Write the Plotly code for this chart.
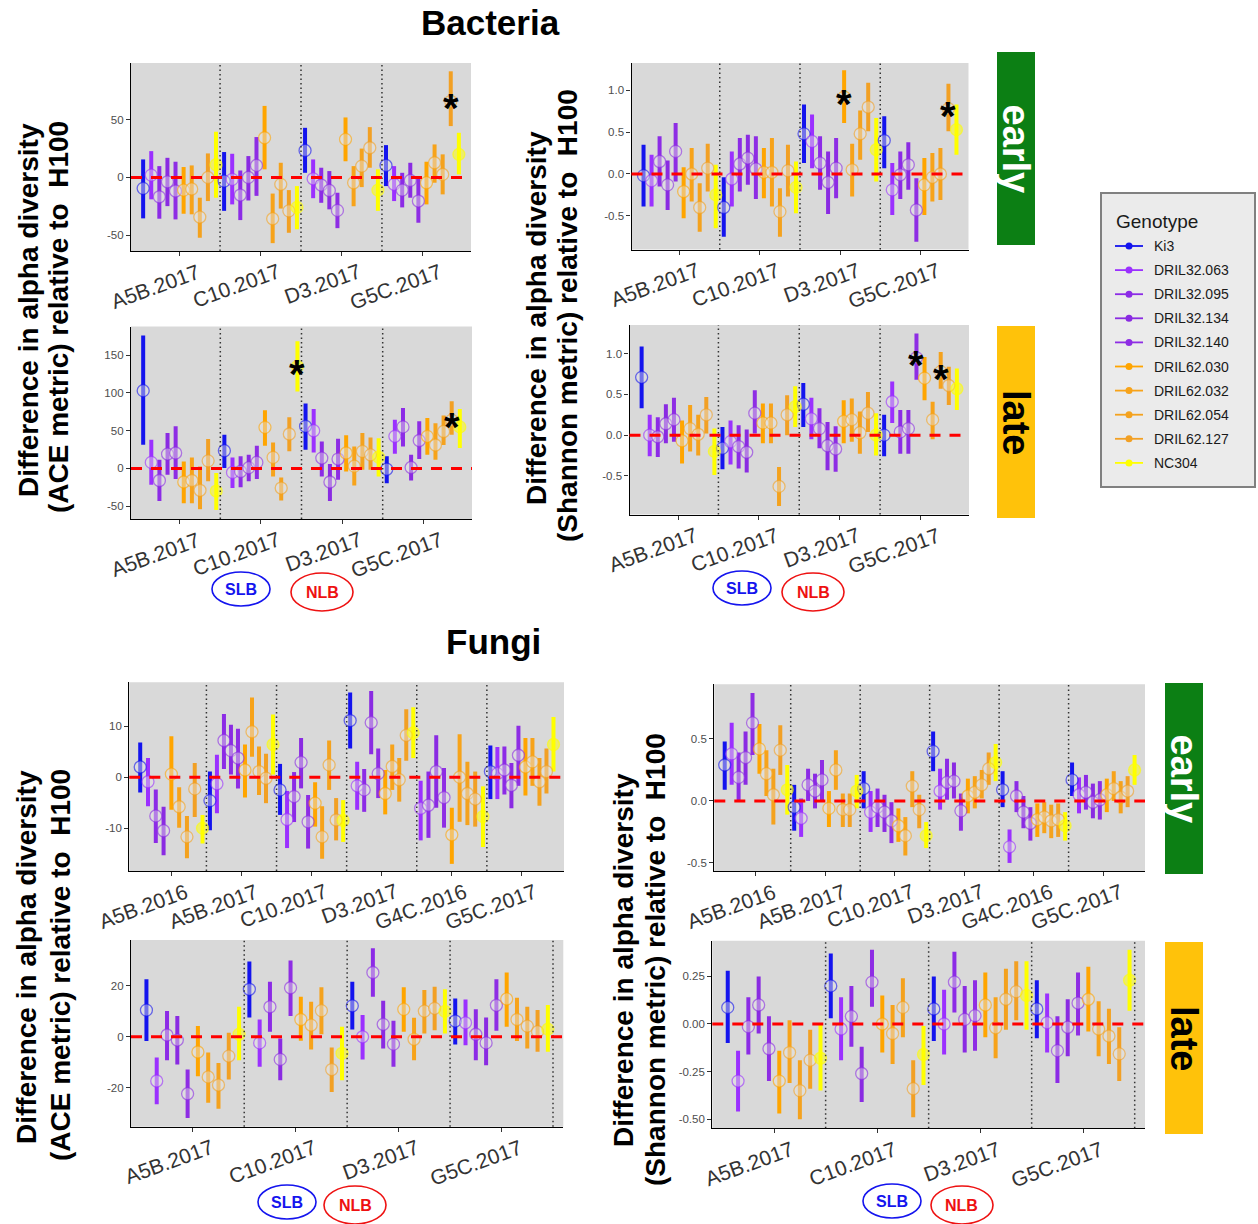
import plotly.graph_objects as go

W, H = 1258, 1224
FONT = "Liberation Sans, Arial, Helvetica, sans-serif"

# ---------------------------------------------------------------- data
genotypes = ["Ki3", "DRIL32.063", "DRIL32.095", "DRIL32.134", "DRIL32.140",
             "DRIL62.030", "DRIL62.032", "DRIL62.054", "DRIL62.127", "NC304"]

bacteria_sites = ["A5B.2017", "C10.2017", "D3.2017", "G5C.2017"]
fungi_early_sites = ["A5B.2016", "A5B.2017", "C10.2017", "D3.2017", "G4C.2016", "G5C.2017"]
fungi_late_sites = ["A5B.2017", "C10.2017", "D3.2017", "G5C.2017"]

# Bacteria, ACE, early
bac_ace_early_mean = [
    [-9.5, 2, -16.8, -3.8, -11.8, -11, -10, -34.4, 0, 11],
    [-3.2, -1.7, -15.3, 0, 10.4, 34.4, -35.8, -6, -29, -26],
    [23.4, -1.2, -6.6, -11.3, -28.6, 33, -4.6, 9.8, 25.7, -11],
    [10.4, -6, -11, -2.6, -20.5, -4.6, 12.7, 2.6, 66, 20]]
bac_ace_early_lo = [
    [-35.5, -19, -35.8, -24.9, -36.4, -31.5, -32, -52.3, -20.5, -17.6],
    [-29, -23.4, -37, -20, -16, 7, -57, -27, -48, -45],
    [4, -18, -22, -27.7, -44, 14, -25, -8.4, 8.4, -29],
    [-7.5, -20.5, -26, -17.6, -39.3, -23.4, -4.6, -14.7, 44.5, 2.6]]
bac_ace_early_hi = [
    [15.6, 22.8, 9.8, 17, 13.6, 9, 10.4, -17.6, 20.8, 39.6],
    [22, 20.5, 6, 18.5, 35, 62, -14, 12.7, -11, -7.5],
    [43, 15.6, 8.4, 5.5, -13.3, 52, 9.8, 25, 43.6, 7],
    [28, 9.8, 4, 12.7, -1.2, 13.6, 28.6, 20, 92, 38.7]]
bac_ace_early_stars = [(4, 8)]

# Bacteria, Shannon, early
bac_sha_early_mean = [
    [-0.02, -0.08, 0.15, -0.13, 0.27, -0.21, 0.0, -0.4, 0.07, -0.25],
    [-0.4, -0.06, 0.12, 0.19, 0.06, 0.02, 0.02, -0.45, 0.04, -0.16],
    [0.48, 0.39, 0.13, -0.1, 0.07, 0.92, 0.05, 0.48, 0.8, 0.29],
    [0.4, -0.19, -0.01, 0.11, -0.43, -0.13, -0.04, 0.0, 0.78, 0.53]]
bac_sha_early_lo = [
    [-0.39, -0.39, -0.15, -0.43, -0.09, -0.53, -0.33, -0.69, -0.21, -0.65],
    [-0.75, -0.39, -0.21, -0.13, -0.3, -0.29, -0.39, -0.75, -0.27, -0.47],
    [0.13, 0.07, -0.19, -0.48, -0.29, 0.61, -0.27, 0.17, 0.51, -0.09],
    [0.07, -0.49, -0.3, -0.19, -0.81, -0.49, -0.33, -0.31, 0.51, 0.23]]
bac_sha_early_hi = [
    [0.35, 0.23, 0.45, 0.16, 0.61, 0.08, 0.31, -0.11, 0.36, 0.11],
    [-0.04, 0.27, 0.43, 0.47, 0.45, 0.31, 0.43, -0.17, 0.35, 0.15],
    [0.83, 0.71, 0.45, 0.27, 0.43, 1.24, 0.36, 0.76, 1.09, 0.67],
    [0.69, 0.13, 0.27, 0.38, -0.05, 0.19, 0.25, 0.31, 1.08, 0.83]]
bac_sha_early_stars = [(3, 5), (4, 8)]

# Bacteria, ACE, late
bac_ace_late_mean = [
    [103, 8, -16, 19, 20.4, -18, -16, -29, 10, -30],
    [23.5, -5.3, -4, 1, 8, 54.4, 14.6, -26, 45.6, 135],
    [55.8, 50, 13.7, -18, 12.4, 20.4, 3, 22.6, 18, 15],
    [-1, 42.5, 55, 1.3, 37, 42.5, 31, 49, 64, 55]]
bac_ace_late_lo = [
    [31.4, -21.7, -43, -8.4, -14, -46, -46, -54, -17, -55],
    [0.4, -26, -25, -17, -14, 30, -10.6, -42.5, 22.6, 102],
    [24.8, 21, -10.6, -43, -15, -4, -22.6, -1.8, -1.8, -10.6],
    [-19.5, 19.5, 29, -16, 12.4, 18, 11.5, 31, 44.7, 27]]
bac_ace_late_hi = [
    [176, 38, 11.5, 47, 55.8, 9.3, 14.6, 2.7, 39, -6],
    [44.7, 14.6, 16, 18, 30, 77, 34.5, -12, 67.7, 168.6],
    [86, 78.8, 35.8, 5.8, 39.4, 43.8, 29, 47, 41, 40],
    [16, 64.6, 80, 18, 62.4, 66.8, 60, 70, 89, 78.8]]
bac_ace_late_stars = [(2, 9), (4, 8)]

# Bacteria, Shannon, late
bac_sha_late_mean = [
    [0.71, 0.0, -0.02, 0.14, 0.19, -0.07, 0.08, 0.01, 0.25, -0.2],
    [-0.16, -0.08, -0.14, -0.21, 0.27, 0.15, 0.15, -0.63, 0.25, 0.35],
    [0.38, 0.2, 0.08, -0.13, -0.17, 0.17, 0.19, 0.03, 0.27, 0.0],
    [0.0, 0.41, 0.04, 0.08, 0.95, 0.7, 0.19, 0.78, 0.61, 0.57]]
bac_sha_late_lo = [
    [0.33, -0.26, -0.27, -0.1, -0.08, -0.35, -0.2, -0.25, 0.02, -0.49],
    [-0.42, -0.36, -0.41, -0.46, 0.02, -0.1, -0.1, -0.87, 0.0, 0.1],
    [0.1, -0.05, -0.16, -0.43, -0.45, -0.1, -0.08, -0.23, 0.04, -0.25],
    [-0.26, 0.15, -0.23, -0.23, 0.68, 0.43, -0.05, 0.57, 0.37, 0.31]]
bac_sha_late_hi = [
    [1.09, 0.25, 0.22, 0.38, 0.46, 0.18, 0.37, 0.25, 0.47, 0.08],
    [0.1, 0.18, 0.12, 0.07, 0.55, 0.39, 0.39, -0.39, 0.49, 0.6],
    [0.64, 0.46, 0.33, 0.16, 0.11, 0.43, 0.45, 0.29, 0.53, 0.27],
    [0.25, 0.66, 0.31, 0.31, 1.25, 0.96, 0.41, 1.02, 0.84, 0.82]]
bac_sha_late_stars = [(4, 4), (4, 7)]

# Fungi, ACE, early (None = genotype not sampled at that site)
fun_ace_early_mean = [
    [2, -0.9, -7.6, -10.5, None, 0.6, -5.8, -11.7, -2.3, -10],
    [-4.6, -1.3, 7.2, 5.2, 3.75, 1.4, 8.9, 1.1, -0.2, 6.4],
    [-2.5, -8.3, -3.8, 2.9, -8.75, -5.1, -11.7, 2.4, -8.4, -8.5],
    [11.1, -1.7, -2.5, 10.7, 0.7, -3.2, 2.1, -0.5, 8.2, 8.7],
    [None, -6.1, -5.5, 1.1, -4, -11.3, 0, -3.2, -4.3, -7.7],
    [1.1, 0.7, 1.4, -1.6, 4.3, 2, 3, -0.9, 1.1, 6.4]]
fun_ace_early_lo = [
    [-3, -5.7, -12.9, -15.3, None, -6.4, -9.9, -15.9, -7.8, -13],
    [-10.4, -7.1, 1.6, 0.5, -2.2, -4, 4, -3.5, -5.1, 0.5],
    [-7.4, -13.9, -8.8, -2.2, -14, -9.7, -16, -2.5, -12.4, -12.7],
    [5.6, -6.4, -6.8, 4.5, -4.1, -7.3, -2.5, -4.8, 3.2, 3.75],
    [None, -12.4, -11.9, -6, -9.9, -17, -8.75, -9.4, -9.7, -13.7],
    [-4.3, -4.3, -3.4, -6.1, -1.7, -3.6, -1.7, -5.6, -3.2, 1.1]]
fun_ace_early_hi = [
    [6.8, 3.75, -2.4, -5.8, None, 8, -2, -7.6, 2.8, -7.4],
    [1.1, 4.4, 12.4, 10.3, 9.5, 6.4, 15.6, 6, 4.6, 12.3],
    [2.6, -2.7, 1, 7.7, -3.5, -1, -5.7, 7.2, -4.1, -4.5],
    [16.6, 3, 1.6, 16.9, 5.6, 1.4, 6.4, 3.75, 13.3, 13.7],
    [None, -0.7, 1.1, 8.2, 1.8, -6, 8.4, 3, 1.1, -1.8],
    [6.2, 5.9, 6, 2.8, 10.1, 7.7, 7.7, 3.75, 5.6, 11.8]]

# Fungi, Shannon, early
fun_sha_early_mean = [
    [0.29, 0.38, 0.19, 0.35, 0.63, 0.42, 0.22, 0.05, 0.41, 0.09],
    [-0.05, -0.14, 0.13, 0.08, 0.17, -0.06, 0.25, -0.07, -0.07, 0.08],
    [0.1, -0.09, -0.05, -0.09, -0.16, -0.2, -0.28, 0.12, -0.07, -0.28],
    [0.4, 0.08, 0.15, 0.16, -0.08, 0.04, 0.07, 0.13, 0.26, 0.31],
    [0.09, -0.37, 0.04, -0.09, -0.18, -0.15, -0.13, -0.16, -0.15, -0.2],
    [0.17, 0.05, 0.07, -0.01, 0.01, 0.05, 0.1, 0.03, 0.08, 0.25]]
fun_sha_early_lo = [
    [0.09, 0.13, 0.0, 0.13, 0.37, 0.22, 0.04, -0.19, 0.21, -0.11],
    [-0.24, -0.29, 0.0, -0.06, 0.0, -0.21, 0.09, -0.21, -0.21, -0.06],
    [-0.06, -0.25, -0.21, -0.25, -0.34, -0.33, -0.44, -0.05, -0.22, -0.38],
    [0.24, -0.07, 0.01, 0.02, -0.24, -0.1, -0.06, 0.02, 0.13, 0.16],
    [-0.05, -0.5, -0.09, -0.22, -0.32, -0.29, -0.26, -0.3, -0.29, -0.32],
    [0.04, -0.1, -0.07, -0.14, -0.15, -0.09, 0.0, -0.1, -0.05, 0.13]]
fun_sha_early_hi = [
    [0.48, 0.63, 0.39, 0.56, 0.87, 0.62, 0.41, 0.26, 0.61, 0.29],
    [0.13, 0.02, 0.26, 0.22, 0.33, 0.08, 0.41, 0.06, 0.06, 0.21],
    [0.24, 0.08, 0.1, 0.05, -0.01, -0.06, -0.13, 0.24, 0.05, -0.17],
    [0.56, 0.26, 0.34, 0.31, 0.06, 0.18, 0.2, 0.25, 0.39, 0.46],
    [0.24, -0.23, 0.16, 0.04, -0.05, -0.02, -0.01, -0.03, -0.02, -0.09],
    [0.31, 0.19, 0.21, 0.14, 0.16, 0.18, 0.24, 0.16, 0.2, 0.37]]

# Fungi, ACE, late
fun_ace_late_mean = [
    [10.5, -17.4, 0.7, -1.3, -22.4, -6, -15.8, -19, -7.6, 1],
    [18.7, -2.4, 11.8, -8.9, 19.3, 6.8, 4.6, 10.3, -12.9, -6.5],
    [12.2, 0, 25.3, 4.9, -2.9, 10.8, -1, 10.1, 11.2, 10],
    [6.2, 5.5, 1, -2.4, 12.4, 14.9, 6.8, 4.2, 2, 3]]
fun_ace_late_lo = [
    [-1.7, -26.6, -9.2, -10.9, -32, -15.5, -26, -28.3, -16.8, -9.2],
    [7.6, -11.8, 2, -17.1, 8.2, -1.6, -5, 1, -21.7, -17.1],
    [2.9, -8.9, 15.8, -4.6, -11.8, 2, -9.2, 1.3, 2.6, 1.3],
    [-3, -3.3, -9.2, -11.2, 2.4, 3.9, -1.7, -4.6, -5.9, -5.9]]
fun_ace_late_hi = [
    [22.6, -8.2, 10.1, 8.2, -12.9, 4.2, -6.2, -10.3, 1.6, 11.8],
    [29.6, 6.8, 21.7, -0.7, 30, 15.8, 13.8, 19.5, -4.2, 3.9],
    [21.7, 8.6, 34.9, 14.2, 6.3, 19.5, 7.5, 18.4, 19.7, 18.7],
    [15.1, 14.7, 10.8, 7.6, 22.6, 25.3, 15.4, 11.8, 10.5, 12.5]]

# Fungi, Shannon, late
fun_sha_late_mean = [
    [0.087, -0.3, -0.014, 0.1, -0.13, -0.3, -0.15, -0.35, -0.19, -0.18],
    [0.2, -0.026, 0.04, -0.26, 0.22, 0.0, -0.05, 0.087, -0.34, -0.16],
    [0.079, 0.0, 0.22, 0.024, 0.044, 0.1, -0.02, 0.13, 0.17, 0.15],
    [0.079, 0.007, -0.14, -0.017, 0.11, 0.13, -0.026, -0.063, -0.157, 0.23]]
fun_sha_late_lo = [
    [-0.1, -0.46, -0.16, -0.05, -0.3, -0.47, -0.31, -0.5, -0.34, -0.35],
    [0.03, -0.19, -0.12, -0.41, 0.09, -0.15, -0.21, -0.07, -0.49, -0.32],
    [-0.09, -0.16, 0.06, -0.15, -0.14, -0.07, -0.18, -0.03, 0.02, -0.03],
    [-0.075, -0.15, -0.31, -0.17, -0.06, -0.04, -0.17, -0.21, -0.3, 0.07]]
fun_sha_late_hi = [
    [0.28, -0.14, 0.14, 0.25, 0.04, -0.14, 0.02, -0.19, -0.03, 0.0],
    [0.37, 0.14, 0.2, -0.12, 0.39, 0.15, 0.1, 0.24, -0.19, -0.01],
    [0.25, 0.18, 0.38, 0.2, 0.23, 0.27, 0.14, 0.29, 0.33, 0.33],
    [0.23, 0.16, 0.04, 0.13, 0.27, 0.3, 0.12, 0.08, -0.017, 0.39]]

# ---------------------------------------------------------------- style
bar_colors = ["#1414EE", "#9B30FF", "#8C2BE6", "#8A2BE2", "#8E2DE4",
              "#FFA500", "#F7A31A", "#F4A21E", "#F2A024", "#FFFF00"]
panel_gray = "#D9D9D9"


def rgba(hex_color, a):
    h = hex_color.lstrip("#")
    r, g, b = int(h[0:2], 16), int(h[2:4], 16), int(h[4:6], 16)
    return f"rgba({r},{g},{b},{a})"


def px(x):
    return x / W


def py(y):
    return 1 - y / H


# panel boxes in pixels: left, top, right, bottom
panels = [
    dict(sites=bacteria_sites, mean=bac_ace_early_mean, lo=bac_ace_early_lo, hi=bac_ace_early_hi,
         stars=bac_ace_early_stars, box=(131, 63, 471, 251), yr=(-63.8, 99.2),
         yt=[-50, 0, 50], ytt=["-50", "0", "50"], vl=[1.5, 2.5, 3.5], lx=25),
    dict(sites=bacteria_sites, mean=bac_sha_early_mean, lo=bac_sha_early_lo, hi=bac_sha_early_hi,
         stars=bac_sha_early_stars, box=(631.5, 63, 968.5, 249.5), yr=(-0.903, 1.327),
         yt=[-0.5, 0, 0.5, 1.0], ytt=["-0.5", "0.0", "0.5", "1.0"], vl=[1.5, 2.5, 3.5], lx=25),
    dict(sites=bacteria_sites, mean=bac_ace_late_mean, lo=bac_ace_late_lo, hi=bac_ace_late_hi,
         stars=bac_ace_late_stars, box=(131, 326.5, 472, 519), yr=(-67, 188),
         yt=[-50, 0, 50, 100, 150], ytt=["-50", "0", "50", "100", "150"], vl=[1.5, 2.5, 3.5], lx=25),
    dict(sites=bacteria_sites, mean=bac_sha_late_mean, lo=bac_sha_late_lo, hi=bac_sha_late_hi,
         stars=bac_sha_late_stars, box=(629.5, 325, 969, 514.5), yr=(-0.975, 1.353),
         yt=[-0.5, 0, 0.5, 1.0], ytt=["-0.5", "0.0", "0.5", "1.0"], vl=[1.5, 2.5, 3.5], lx=25),
    dict(sites=fungi_early_sites, mean=fun_ace_early_mean, lo=fun_ace_early_lo, hi=fun_ace_early_hi,
         stars=[], box=(129.3, 682.3, 564, 871), yr=(-18.4, 18.6),
         yt=[-10, 0, 10], ytt=["-10", "0", "10"], vl=[1.5, 2.5, 3.5, 4.5, 5.5], lx=21),
    dict(sites=fungi_early_sites, mean=fun_sha_early_mean, lo=fun_sha_early_lo, hi=fun_sha_early_hi,
         stars=[], box=(714.3, 684.3, 1145, 871), yr=(-0.565, 0.941),
         yt=[-0.5, 0, 0.5], ytt=["-0.5", "0.0", "0.5"], vl=[1.5, 2.5, 3.5, 4.5, 5.5], lx=25),
    dict(sites=fungi_late_sites, mean=fun_ace_late_mean, lo=fun_ace_late_lo, hi=fun_ace_late_hi,
         stars=[], box=(131, 940, 563.3, 1126.7), yr=(-35.4, 38.1),
         yt=[-20, 0, 20], ytt=["-20", "0", "20"], vl=[1.5, 2.5, 3.5, 4.5], lx=26),
    dict(sites=fungi_late_sites, mean=fun_sha_late_mean, lo=fun_sha_late_lo, hi=fun_sha_late_hi,
         stars=[], box=(712.3, 940.7, 1145, 1128.3), yr=(-0.548, 0.4375),
         yt=[-0.5, -0.25, 0, 0.25], ytt=["-0.50", "-0.25", "0.00", "0.25"], vl=[1.5, 2.5, 3.5, 4.5], lx=25),
]

fig = go.Figure()
shapes, annotations = [], []
layout_axes = {}


def dodge(mean):
    """x position of every genotype within each site (dodge width 1)."""
    out = []
    for g, row in enumerate(mean, start=1):
        present = [k for k, v in enumerate(row) if v is not None]
        n = len(present)
        out.append({k: g - 0.5 + (j + 0.5) / n for j, k in enumerate(present)})
    return out


def label(text, x, y, size, color="black", angle=0, xanchor="center", yanchor="middle", bold=False):
    return dict(text=f"<b>{text}</b>" if bold else text, x=px(x), y=py(y),
                xref="paper", yref="paper", xanchor=xanchor, yanchor=yanchor,
                textangle=angle, showarrow=False,
                font=dict(size=size, color=color, family=FONT))


for i, p in enumerate(panels, start=1):
    sfx = "" if i == 1 else str(i)
    xa, ya = f"x{sfx}", f"y{sfx}"
    left, top, right, bottom = p["box"]
    n_sites = len(p["sites"])
    pos = dodge(p["mean"])

    # interval bars
    for k in range(len(genotypes)):
        xs, ys = [], []
        for g in range(n_sites):
            if k in pos[g]:
                xs += [pos[g][k], pos[g][k], None]
                ys += [p["lo"][g][k], p["hi"][g][k], None]
        fig.add_trace(go.Scatter(x=xs, y=ys, mode="lines", xaxis=xa, yaxis=ya,
                                 line=dict(color=bar_colors[k], width=4),
                                 showlegend=False, hoverinfo="skip"))
    # point estimates
    for k in range(len(genotypes)):
        xs = [pos[g][k] for g in range(n_sites) if k in pos[g]]
        ys = [p["mean"][g][k] for g in range(n_sites) if k in pos[g]]
        fill = rgba(bar_colors[k], 0.5) if k == 9 else "rgba(228,228,228,0.45)"
        fig.add_trace(go.Scatter(x=xs, y=ys, mode="markers", xaxis=xa, yaxis=ya,
                                 marker=dict(symbol="circle", size=12, color=fill,
                                             line=dict(color=rgba(bar_colors[k], 0.6), width=1.3)),
                                 showlegend=False, name=genotypes[k]))

    layout_axes[f"xaxis{sfx}"] = dict(
        domain=[px(left), px(right)], anchor=ya, range=[0.4, n_sites + 0.6],
        showgrid=False, zeroline=False, showline=True, linecolor="black", linewidth=1.3,
        ticks="outside", ticklen=4, tickcolor="#333333", tickvals=list(range(1, n_sites + 1)),
        showticklabels=False, fixedrange=True)
    layout_axes[f"yaxis{sfx}"] = dict(
        domain=[py(bottom), py(top)], anchor=xa, range=list(p["yr"]),
        showgrid=False, zeroline=False, showline=True, linecolor="black", linewidth=1.3,
        ticks="outside", ticklen=4, tickcolor="#333333", tickvals=p["yt"], ticktext=p["ytt"],
        tickfont=dict(size=11.5, color="#4D4D4D", family=FONT), fixedrange=True)

    # panel background
    shapes.append(dict(type="rect", xref=f"{xa} domain", yref=f"{ya} domain",
                       x0=0, x1=1, y0=0, y1=1, fillcolor=panel_gray, line=dict(width=0),
                       layer="below"))
    # site separators
    for v in p["vl"]:
        shapes.append(dict(type="line", xref=xa, yref=f"{ya} domain", x0=v, x1=v, y0=0, y1=1,
                           line=dict(color="#333333", width=1.5, dash="1.5px,3px"), layer="above"))
    # reference line at zero
    shapes.append(dict(type="line", xref=f"{xa} domain", yref=ya, x0=0, x1=1, y0=0, y1=0,
                       line=dict(color="#FF0000", width=3, dash="11px,9px"), layer="above"))

    # site labels
    for g, s in enumerate(p["sites"], start=1):
        annotations.append(dict(text=s, x=g, xref=xa, y=py(bottom), yref="paper",
                                xanchor="right", yanchor="top", xshift=p["lx"], yshift=-6,
                                textangle=-20, showarrow=False,
                                font=dict(size=21, color="#333333", family=FONT)))
    # significance marks
    for g, k in p["stars"]:
        annotations.append(dict(text="<b>*</b>", x=pos[g - 1][k], xref=xa, y=p["mean"][g - 1][k],
                                yref=ya, xanchor="center", yanchor="middle",
                                showarrow=False, yshift=-7,
                                font=dict(size=40, color="black", family=FONT)))

# ---------------------------------------------------------------- titles
annotations.append(label("Bacteria", 490, 22, 35, bold=True))
annotations.append(label("Fungi", 493, 641, 35, bold=True))

# two-line axis titles, one annotation per line
line1 = "Difference in alpha diversity"
ytitles = [
    (line1, 28, 310), ("(ACE metric) relative to  H100", 59, 317),
    (line1, 537, 318), ("(Shannon metric) relative to  H100", 568, 316),
    (line1, 26, 957), ("(ACE metric) relative to  H100", 60, 965),
    (line1, 623, 960), ("(Shannon metric) relative to  H100", 655, 960),
]
for txt, x, y in ytitles:
    annotations.append(label(txt, x, y, 28, angle=-90, bold=True))

# ---------------------------------------------------------------- strips
strips = [
    ("early", 997, 52, 1035, 245, "#0C7F14", "white"),
    ("late", 997, 326, 1035, 518, "#FFC20A", "black"),
    ("early", 1165, 683, 1203, 874, "#0C7F14", "white"),
    ("late", 1165, 942, 1203, 1134, "#FFC20A", "black"),
]
for txt, x0, y0, x1, y1, fc, tc in strips:
    shapes.append(dict(type="rect", xref="paper", yref="paper", x0=px(x0), x1=px(x1),
                       y0=py(y1), y1=py(y0), fillcolor=fc, line=dict(width=0)))
    annotations.append(label(txt, (x0 + x1) / 2, (y0 + y1) / 2, 38, color=tc, angle=90, bold=True))

# ---------------------------------------------------------------- SLB / NLB marks
marks = [
    ("SLB", 241, 589, 58, 34, "#1414EE"), ("NLB", 322, 592, 62, 38, "#EE1111"),
    ("SLB", 742, 588, 58, 34, "#1414EE"), ("NLB", 813, 592, 62, 38, "#EE1111"),
    ("SLB", 287, 1202, 58, 34, "#1414EE"), ("NLB", 355, 1205, 62, 38, "#EE1111"),
    ("SLB", 892, 1201, 58, 34, "#1414EE"), ("NLB", 962, 1205, 62, 38, "#EE1111"),
]
for txt, cx, cy, w, h, c in marks:
    shapes.append(dict(type="circle", xref="paper", yref="paper",
                       x0=px(cx - w / 2), x1=px(cx + w / 2), y0=py(cy + h / 2), y1=py(cy - h / 2),
                       line=dict(color=c, width=1.6)))
    annotations.append(label(txt, cx, cy, 16, color=c, bold=True))

# ---------------------------------------------------------------- legend
shapes.append(dict(type="rect", xref="paper", yref="paper", x0=px(1101), x1=px(1255),
                   y0=py(487), y1=py(193), fillcolor="#EBEBEB",
                   line=dict(color="#808080", width=2)))
annotations.append(label("Genotype", 1114, 221, 19, color="#1a1a1a", xanchor="left"))
for k, gname in enumerate(genotypes):
    yk = 246 + 24.1 * k
    shapes.append(dict(type="line", xref="paper", yref="paper", x0=px(1115), x1=px(1143),
                       y0=py(yk), y1=py(yk), line=dict(color=bar_colors[k], width=1.8)))
    shapes.append(dict(type="circle", xref="paper", yref="paper", x0=px(1125.5), x1=px(1132.5),
                       y0=py(yk + 3.5), y1=py(yk - 3.5), fillcolor=bar_colors[k],
                       line=dict(width=0)))
    annotations.append(label(gname, 1152, yk, 14, color="#1a1a1a", xanchor="left"))

fig.update_layout(
    width=W, height=H, margin=dict(l=0, r=0, t=0, b=0),
    paper_bgcolor="white", plot_bgcolor="rgba(0,0,0,0)",
    showlegend=False, shapes=shapes, annotations=annotations,
    font=dict(family=FONT), **layout_axes)

fig.write_html("out.html")
